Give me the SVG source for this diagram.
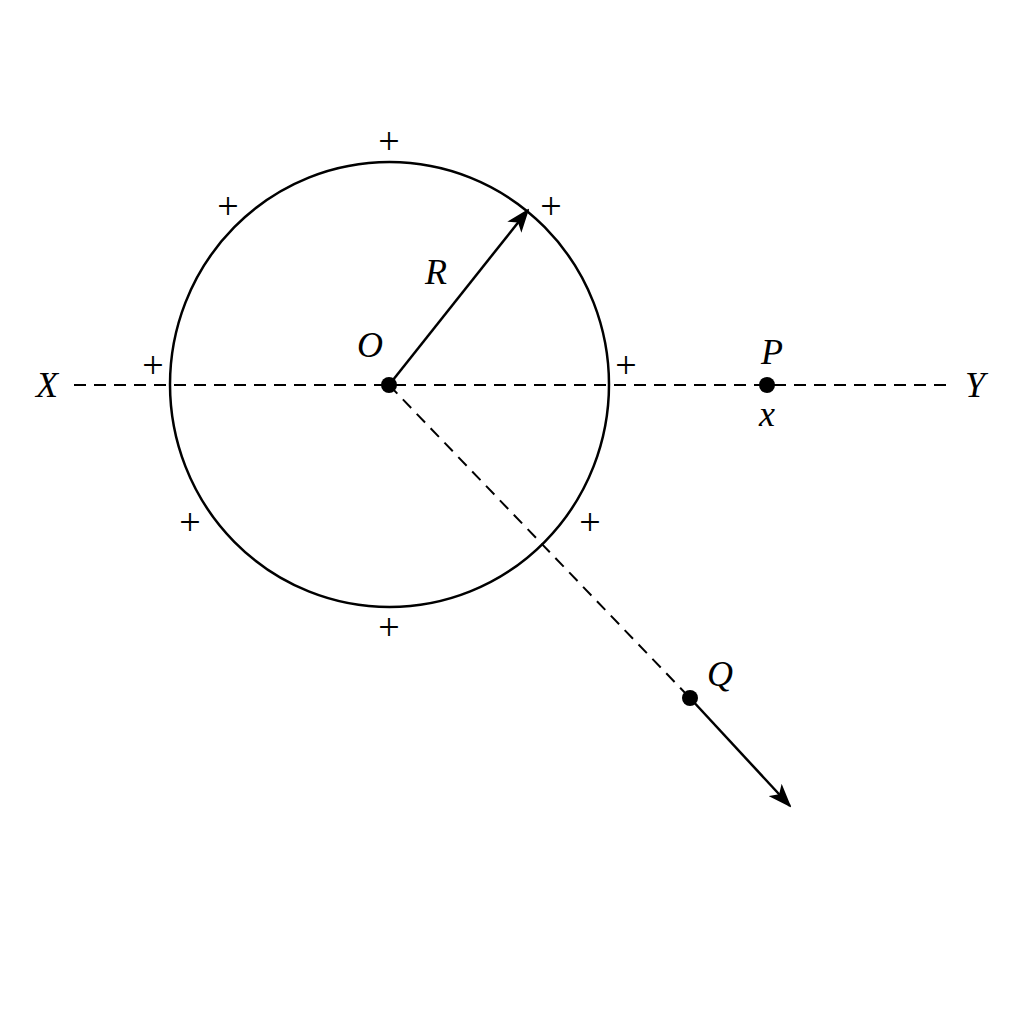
<svg xmlns="http://www.w3.org/2000/svg" width="1024" height="1024" viewBox="0 0 1024 1024">
<style>
.lbl{font-family:"Liberation Serif","Times New Roman",serif;font-style:italic;font-size:36px;fill:#000;text-anchor:middle}
.plus{font-family:"Liberation Serif","Times New Roman",serif;font-size:38px;fill:#000;text-anchor:middle}
.dash{stroke:#000;stroke-width:2;stroke-dasharray:12 8;fill:none}
.solid{stroke:#000;stroke-width:2.5;fill:none}
</style>
<defs>
<marker id="arr" viewBox="0 0 24 18" refX="22" refY="9" markerWidth="24" markerHeight="18" markerUnits="userSpaceOnUse" orient="auto">
<path d="M0,0 L24,9 L0,18 L6,9 Z" fill="#000"/>
</marker>
</defs>
<rect width="1024" height="1024" fill="#fff"/>
<g id="connectors">
<line class="dash" x1="74" y1="385" x2="952" y2="385"/>
<line class="dash" x1="389" y1="385" x2="690" y2="698"/>
<line class="solid" x1="389" y1="385" x2="528" y2="210" marker-end="url(#arr)"/>
<line class="solid" x1="690" y1="698" x2="790" y2="806" marker-end="url(#arr)"/>
</g>
<g id="sphere">
<ellipse cx="389.5" cy="384.5" rx="219.5" ry="222.5" fill="none" stroke="#000" stroke-width="2.5"/>
<text class="plus" x="389" y="154">+</text>
<text class="plus" x="228" y="219">+</text>
<text class="plus" x="551" y="219">+</text>
<text class="plus" x="153" y="378">+</text>
<text class="plus" x="626" y="378">+</text>
<text class="plus" x="190" y="535">+</text>
<text class="plus" x="590" y="535">+</text>
<text class="plus" x="389" y="640">+</text>
<text class="lbl" x="436" y="284">R</text>
</g>
<g id="O">
<circle cx="389" cy="385" r="8" fill="#000"/>
<text class="lbl" x="370" y="357">O</text>
</g>
<g id="P">
<circle cx="767" cy="385" r="8" fill="#000"/>
<text class="lbl" x="772" y="364">P</text>
<text class="lbl" x="767" y="426">x</text>
</g>
<g id="Q">
<circle cx="690" cy="698" r="8" fill="#000"/>
<text class="lbl" x="720" y="686">Q</text>
</g>
<g id="X"><text class="lbl" x="47" y="397">X</text></g>
<g id="Y"><text class="lbl" x="975" y="397">Y</text></g>
</svg>
